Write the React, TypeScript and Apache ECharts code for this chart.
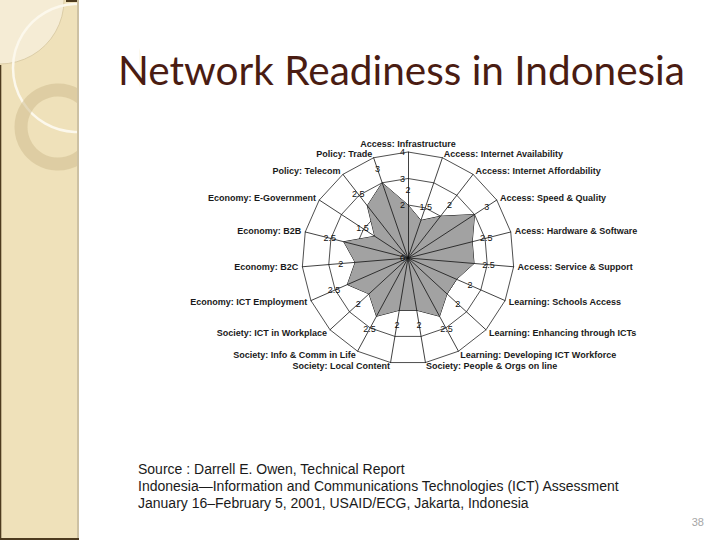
import React, { useEffect, useRef } from "react";
import * as echarts from "echarts";

// Indicators, listed clockwise starting at the top
const categories = [
  "Access: Infrastructure",
  "Access: Internet Availability",
  "Access: Internet Affordability",
  "Access: Speed & Quality",
  "Acess: Hardware & Software",
  "Access: Service & Support",
  "Learning: Schools Access",
  "Learning: Enhancing through ICTs",
  "Learning: Developing ICT Workforce",
  "Society: People & Orgs on line",
  "Society: Local Content",
  "Society: Info & Comm in Life",
  "Society: ICT in Workplace",
  "Economy: ICT Employment",
  "Economy: B2C",
  "Economy: B2B",
  "Economy: E-Government",
  "Policy: Telecom",
  "Policy: Trade",
];
const values = [2, 1.5, 2, 3, 2.5, 2.5, 2, 2, 2.5, 2, 2, 2.5, 2, 2.5, 2, 2.5, 1.5, 2.5, 3];
const axisMin = 0;
const axisMax = 4;
const splitCount = 4;
const tickLabels = ["0", "", "2", "3", "4"];
const labelOffset = 0.55;

const titleText = "Network Readiness in Indonesia";
const sourceLines = [
  "Source : Darrell E. Owen, Technical Report",
  "Indonesia\u2014Information and Communications Technologies (ICT) Assessment",
  "January 16\u2013February 5, 2001, USAID/ECG, Jakarta, Indonesia",
];
const pageNumber = "38";

// ECharts places radar indicators counter-clockwise; reorder to draw clockwise
const order = [0, ...categories.map((_, i) => i).slice(1).reverse()];

export default function App() {
  const ref = useRef<HTMLDivElement>(null);
  useEffect(() => {
    if (!ref.current) return;
    const chart = echarts.init(ref.current, null, { renderer: "svg" });
    const center = [408, 258];
    const radius = 106;
    const orderedValues = order.map((i) => values[i]);
    const labelValues = orderedValues.map((v) => v + labelOffset);

    const option: any = {
      animation: false,
      backgroundColor: "#ffffff",
      title: {
        text: titleText,
        left: 113,
        top: 44,
        textStyle: {
          fontFamily: "Lato",
          fontSize: 40.5,
          fontWeight: "normal",
          color: "#4a1c12",
        },
      },
      radar: [
        {
          center,
          radius,
          startAngle: 90,
          shape: "polygon",
          splitNumber: splitCount,
          nameGap: 4,
          z: 0,
          indicator: order.map((i) => ({ name: categories[i], min: axisMin, max: axisMax })),
          axisName: {
            color: "#1a1a1a",
            fontFamily: "Liberation Sans",
            fontWeight: "bold",
            fontSize: 9,
          },
          splitLine: { lineStyle: { color: "#222222", width: 0.8 } },
          splitArea: { show: false },
          axisLine: { show: false },
          axisTick: { show: false },
          axisLabel: { show: false },
        },
        {
          center,
          radius,
          startAngle: 90,
          shape: "polygon",
          splitNumber: splitCount,
          z: 5,
          indicator: order.map((i, k) => ({
            name: "",
            min: axisMin,
            max: axisMax,
            axisLabel:
              k === 0
                ? {
                    show: true,
                    showMinLabel: true,
                    showMaxLabel: true,
                    fontFamily: "Liberation Sans",
                    fontSize: 9,
                    color: "#111111",
                    margin: 3,
                    formatter: (v: number) => tickLabels[Math.round(v)] ?? "",
                  }
                : { show: false },
          })),
          axisName: { show: false },
          splitLine: { show: false },
          splitArea: { show: false },
          axisTick: { show: false },
          axisLine: { show: true, lineStyle: { color: "#111111", width: 0.8 } },
          axisLabel: { show: false },
        },
      ],
      series: [
        {
          type: "radar",
          radarIndex: 0,
          z: 2,
          symbol: "none",
          lineStyle: { color: "#111111", width: 1 },
          areaStyle: { color: "#a2a2a2", opacity: 1 },
          data: [{ value: orderedValues, name: "Indonesia" }],
        },
        {
          type: "radar",
          radarIndex: 0,
          z: 3,
          symbol: "circle",
          symbolSize: 0.1,
          itemStyle: { color: "transparent" },
          lineStyle: { opacity: 0 },
          label: {
            show: true,
            position: "inside",
            fontFamily: "Liberation Sans",
            fontSize: 9,
            color: "#111111",
            formatter: (p: any) => {
              const v = Array.isArray(p.value) ? p.value[0] : p.value;
              return String(Math.round((v - labelOffset) * 10) / 10);
            },
          },
          data: [{ value: labelValues, name: "labels" }],
        },
      ],
      graphic: [
        { type: "rect", z: 0, shape: { x: 0, y: 0, width: 78, height: 540 }, style: { fill: "#efe1ba" } },
        { type: "circle", z: 1, shape: { cx: 0, cy: 0, r: 64 }, style: { fill: "#f5ecd5", stroke: "#d6c7a0", lineWidth: 0.8 } },
        { type: "circle", z: 2, shape: { cx: 77, cy: 68, r: 64 }, style: { fill: "none", stroke: "#fcf8ec", lineWidth: 2.5 } },
        { type: "circle", z: 3, shape: { cx: 58, cy: 127, r: 37 }, style: { fill: "none", stroke: "#cfbd8f", lineWidth: 13, opacity: 0.55 } },
        { type: "rect", z: 4, shape: { x: 79, y: 0, width: 60, height: 200 }, style: { fill: "#ffffff" } },
        { type: "rect", z: 5, shape: { x: 77, y: 0, width: 2, height: 540 }, style: { fill: "#cdc1a3" } },
        { type: "rect", z: 5, shape: { x: 0, y: 65, width: 1.3, height: 475 }, style: { fill: "#4d3b1f" } },
        { type: "rect", z: 5, shape: { x: 0, y: 538, width: 79, height: 2 }, style: { fill: "#4d3b1f" } },
        { type: "rect", z: 5, shape: { x: 66, y: 0, width: 11, height: 2 }, style: { fill: "#4d3b1f" } },
        {
          type: "text",
          z: 5,
          x: 138,
          y: 460,
          style: {
            text: sourceLines.join("\n"),
            fontFamily: "Liberation Sans",
            fontSize: 14,
            lineHeight: 17,
            fill: "#1a1a1a",
            textVerticalAlign: "top",
          },
        },
        {
          type: "text",
          z: 5,
          x: 704,
          y: 522,
          style: {
            text: pageNumber,
            fontFamily: "Liberation Sans",
            fontSize: 11,
            fill: "#a6a6a6",
            textAlign: "right",
            textVerticalAlign: "middle",
          },
        },
      ],
    };
    chart.setOption(option);
    return () => chart.dispose();
  }, []);
  return (
    <div
      ref={ref}
      style={{ position: "absolute", left: 0, top: 0, width: 720, height: 540 }}
    />
  );
}
